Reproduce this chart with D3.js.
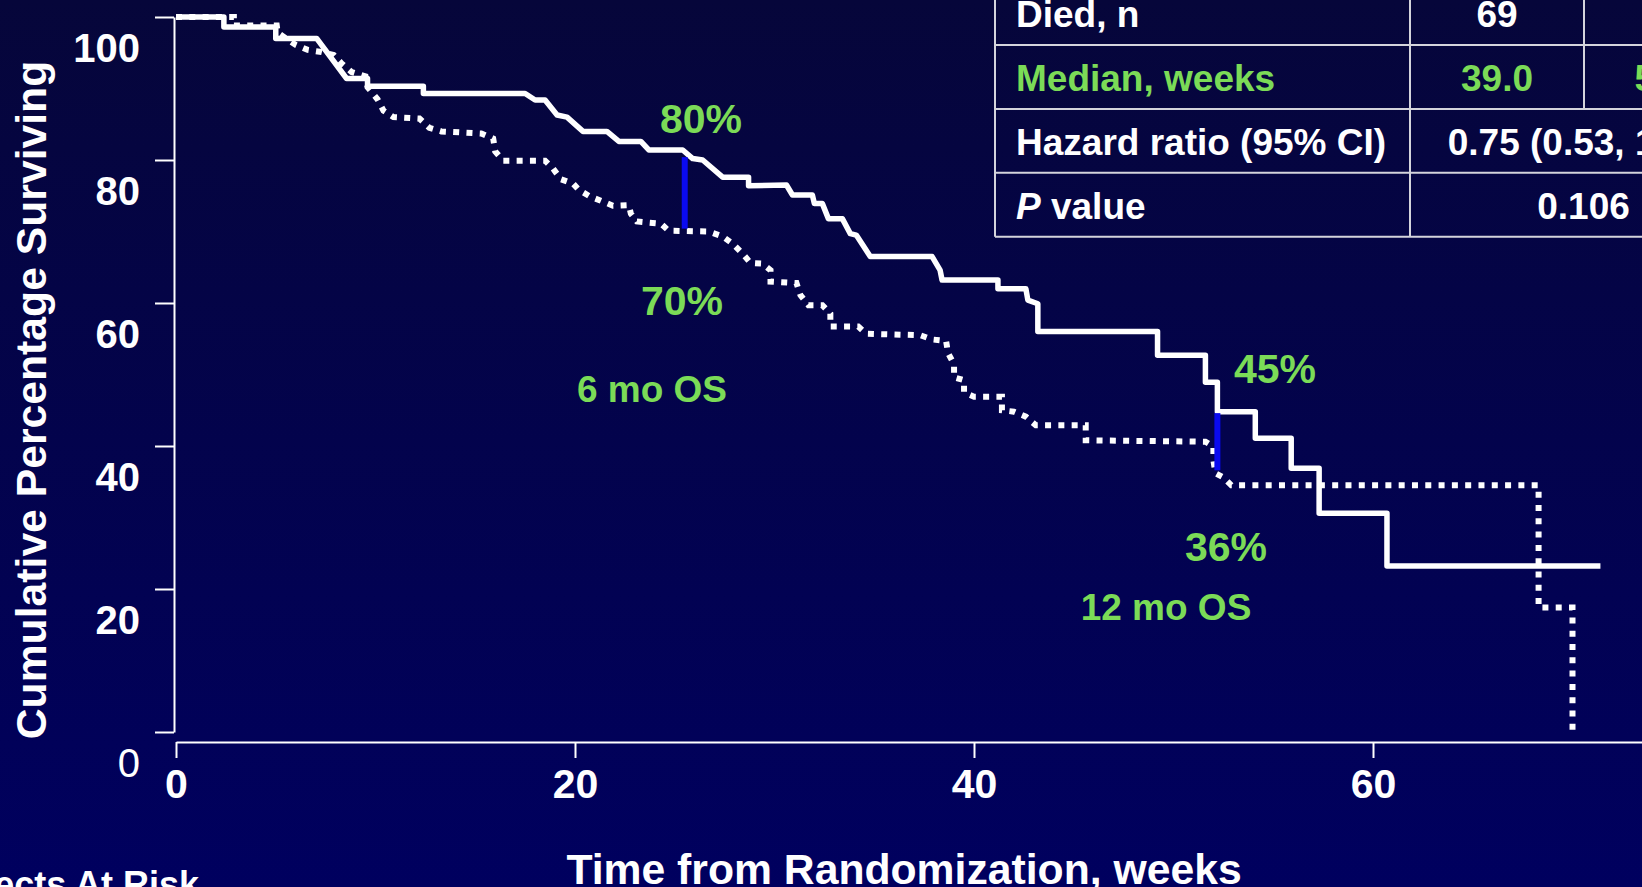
<!DOCTYPE html>
<html>
<head>
<meta charset="utf-8">
<script src="https://cdn.jsdelivr.net/npm/d3@7"></script>
<style>
  body { margin: 0; background: #02024c; overflow: hidden; }
  svg { display: block; font-family: "Liberation Sans", Arial, sans-serif; }
</style>
</head>
<body>
<div id="chart"></div>
<script>
// Kaplan-Meier curves, [week, % surviving]
const armBCurve = [
  [0, 100], [2.4, 100], [2.4, 98.6], [5.0, 98.6], [5.0, 97.0], [7.05, 97.0], [8.55, 91.4],
  [9.6, 91.4], [9.6, 90.3], [12.4, 90.3], [12.4, 89.3], [17.5, 89.3], [18.0, 88.4], [18.5, 88.4],
  [19.1, 86.3], [19.6, 86.0], [20.4, 84.0], [21.6, 84.0], [22.2, 82.6], [23.3, 82.6], [23.7, 81.4],
  [25.4, 81.4], [25.9, 80.2], [26.4, 80.0], [27.4, 77.6], [28.7, 77.6], [28.7, 76.4], [30.6, 76.5],
  [30.9, 75.1], [31.9, 75.1], [32.0, 73.9], [32.4, 73.9], [32.7, 71.8], [33.4, 71.8], [33.8, 69.7],
  [34.1, 69.5], [34.8, 66.5], [37.9, 66.5], [38.3, 64.6], [38.4, 63.2], [41.2, 63.2], [41.2, 62.0],
  [42.6, 62.0], [42.7, 60.4], [43.2, 59.9], [43.2, 56.0], [49.2, 56.0], [49.2, 52.7], [51.6, 52.7],
  [51.6, 48.9], [52.2, 48.9], [52.2, 44.8], [54.1, 44.8], [54.1, 41.1], [55.9, 41.1], [55.9, 36.9],
  [57.3, 36.9], [57.3, 30.6], [60.7, 30.6], [60.7, 23.2], [71.4, 23.2]
];
const armACurve = [
  [0, 100], [2.9, 100], [2.9, 98.8], [5.05, 98.8], [5.1, 97.8], [6.0, 96.1], [6.6, 95.4],
  [7.3, 95.1], [7.9, 94.7], [8.3, 93.5], [8.8, 92.3], [9.5, 91.7], [9.6, 90.2], [10.1, 88.5],
  [10.4, 86.9], [10.9, 86.0], [12.2, 85.8], [12.7, 84.5], [13.3, 84.0], [15.3, 83.7], [15.9, 83.0],
  [16.0, 81.2], [16.4, 79.9], [18.5, 79.9], [18.9, 78.8], [19.3, 77.3], [19.9, 76.7], [20.2, 75.8],
  [20.75, 74.9], [21.3, 74.3], [21.9, 73.6], [22.7, 73.7], [22.8, 72.5], [23.1, 71.4], [24.3, 71.1],
  [24.7, 70.1], [26.7, 70.0], [27.4, 69.3], [27.9, 68.3], [28.4, 66.9], [28.8, 65.6], [29.4, 65.5],
  [29.8, 64.6], [29.8, 63.0], [31.1, 62.8], [31.3, 61.1], [31.7, 59.7], [32.4, 59.7], [32.8, 58.5],
  [32.8, 56.7], [34.2, 56.7], [34.6, 55.7], [37.3, 55.5], [37.9, 54.9], [38.6, 54.7], [38.7, 53.0],
  [39.0, 51.4], [39.0, 49.6], [39.5, 49.2], [39.5, 47.5], [40.0, 46.9], [41.4, 46.9], [41.4, 45.0],
  [42.0, 44.8], [42.6, 44.1], [43.1, 42.9], [45.6, 42.9], [45.6, 40.8], [51.6, 40.6], [52.0, 39.9],
  [52.0, 38.0], [52.1, 36.2], [52.5, 35.6], [52.9, 34.5], [68.3, 34.5], [68.3, 17.4], [70.0, 17.4],
  [70.0, 0]
];

const yTicks = [0, 20, 40, 60, 80, 100];
const xTicks = [0, 20, 40, 60];

// 6 and 12 month landmarks
const landmarkWeeks = [25.5, 52.2];
const landmarkHigh = [80.4, 44.6];
const landmarkLow = [70.4, 36.6];
const highLabels = ["80%", "45%"];
const lowLabels = ["70%", "36%"];
const landmarkNames = ["6 mo OS", "12 mo OS"];

// summary table (header row is off the top of the slide)
const tableLabels = ["Died, n", "Median, weeks", "Hazard ratio (95% CI)", "P value"];
const armAColumn = ["69", "39.0"];
const armBColumn = ["62", "52.0"];
const pooledColumn = ["0.75 (0.53, 1.06)", "0.106"];

const width = 1642, height = 887;
const green = "#7bdb57";

const svg = d3.select("#chart")
  .append("svg")
  .attr("width", width)
  .attr("height", height);

// background
const grad = svg.append("defs").append("linearGradient")
  .attr("id", "bg").attr("x1", 0).attr("y1", 0).attr("x2", 0).attr("y2", 1);
grad.append("stop").attr("offset", "0%").attr("stop-color", "#06063a");
grad.append("stop").attr("offset", "100%").attr("stop-color", "#00005f");
svg.append("rect").attr("width", width).attr("height", height).attr("fill", "url(#bg)");

const x = d3.scaleLinear().domain([0, 73.5]).range([176, 176 + 73.5 * 19.95]);
const y = d3.scaleLinear().domain([0, 100]).range([732, 17]);

// Y axis
const yAxis = svg.append("g")
  .attr("transform", "translate(174,0)")
  .call(d3.axisLeft(y).tickValues(yTicks).tickSize(19).tickPadding(15).tickSizeOuter(0));
yAxis.selectAll("text")
  .attr("dy", 44)
  .style("font-size", "40px")
  .style("font-weight", d => d === 0 ? "normal" : "bold")
  .style("font-family", "Liberation Sans, Arial, sans-serif")
  .style("fill", "white");

// X axis
const xAxis = svg.append("g")
  .attr("transform", "translate(0,742)")
  .call(d3.axisBottom(x).tickValues(xTicks).tickSize(16).tickPadding(11).tickSizeOuter(0));
xAxis.selectAll("text")
  .style("font-size", "41px")
  .style("font-weight", "bold")
  .style("font-family", "Liberation Sans, Arial, sans-serif")
  .style("fill", "white");

svg.selectAll(".domain").style("stroke", "white").style("stroke-width", 2);
svg.selectAll(".tick line").style("stroke", "white").style("stroke-width", 2);

// axis titles
svg.append("text")
  .attr("transform", "translate(46,400) rotate(-90)")
  .attr("text-anchor", "middle")
  .style("font-size", "42.7px")
  .style("font-weight", "bold")
  .style("fill", "white")
  .text("Cumulative Percentage Surviving");

svg.append("text")
  .attr("x", 904)
  .attr("y", 884)
  .attr("text-anchor", "middle")
  .style("font-size", "42.7px")
  .style("font-weight", "bold")
  .style("fill", "white")
  .text("Time from Randomization, weeks");

svg.append("text")
  .attr("x", 199)
  .attr("y", 897)
  .attr("text-anchor", "end")
  .style("font-size", "36px")
  .style("font-weight", "bold")
  .style("fill", "white")
  .text("Subjects At Risk");

// curves
const line = d3.line()
  .x(d => x(d[0]))
  .y(d => y(d[1]));

svg.append("path")
  .datum(armACurve)
  .attr("d", line)
  .attr("fill", "none")
  .attr("stroke", "white")
  .attr("stroke-width", 6)
  .attr("stroke-dasharray", "6 7.3");

svg.append("path")
  .datum(armBCurve)
  .attr("d", line)
  .attr("fill", "none")
  .attr("stroke", "white")
  .attr("stroke-width", 5.5)
  .attr("stroke-linejoin", "round");

// landmark bars
svg.selectAll(".landmark")
  .data(landmarkWeeks)
  .enter()
  .append("line")
  .attr("class", "landmark")
  .attr("x1", d => x(d))
  .attr("x2", d => x(d))
  .attr("y1", (d, i) => y(landmarkHigh[i]))
  .attr("y2", (d, i) => y(landmarkLow[i]))
  .attr("stroke", "#0a0af0")
  .attr("stroke-width", 6);

// landmark labels
const highPos = [[701, 133], [1275, 383]];
const lowPos = [[682, 315], [1226, 561]];
const namePos = [[652, 402], [1166, 620]];

function greenText(txt, pos, size) {
  svg.append("text")
    .attr("x", pos[0])
    .attr("y", pos[1])
    .attr("text-anchor", "middle")
    .style("font-size", size + "px")
    .style("font-weight", "bold")
    .style("fill", green)
    .text(txt);
}
landmarkWeeks.forEach((w, i) => {
  greenText(highLabels[i], highPos[i], 41);
  greenText(lowLabels[i], lowPos[i], 41);
  greenText(landmarkNames[i], namePos[i], 37);
});

// table
const tLeft = 995, tCol1 = 1410, tCol2 = 1584, tRight = 1757;
const rowH = 63.9, firstBottom = 45;
const table = svg.append("g");
const lineColor = "#d4d4dc";

tableLabels.forEach((lab, i) => {
  const bottom = firstBottom + rowH * i;
  table.append("line")
    .attr("x1", tLeft).attr("x2", tRight)
    .attr("y1", bottom).attr("y2", bottom)
    .attr("stroke", lineColor).attr("stroke-width", 2);
});
table.append("line")
  .attr("x1", tLeft).attr("x2", tLeft)
  .attr("y1", -20).attr("y2", firstBottom + rowH * 3)
  .attr("stroke", lineColor).attr("stroke-width", 2);
table.append("line")
  .attr("x1", tCol1).attr("x2", tCol1)
  .attr("y1", -20).attr("y2", firstBottom + rowH * 3)
  .attr("stroke", lineColor).attr("stroke-width", 2);
table.append("line")
  .attr("x1", tCol2).attr("x2", tCol2)
  .attr("y1", -20).attr("y2", firstBottom + rowH)
  .attr("stroke", lineColor).attr("stroke-width", 2);

const cellFont = "37px";
tableLabels.forEach((lab, i) => {
  const base = firstBottom + rowH * i - 18;
  const col = i === 1 ? green : "white";
  const t = table.append("text")
    .attr("x", 1016)
    .attr("y", base)
    .style("font-size", cellFont)
    .style("font-weight", "bold")
    .style("fill", col);
  if (lab.startsWith("P ")) {
    t.append("tspan").style("font-style", "italic").text("P");
    t.append("tspan").text(lab.slice(1));
  } else {
    t.text(lab);
  }
  if (i < 2) {
    table.append("text")
      .attr("x", (tCol1 + tCol2) / 2).attr("y", base)
      .attr("text-anchor", "middle")
      .style("font-size", cellFont).style("font-weight", "bold").style("fill", col)
      .text(armAColumn[i]);
    table.append("text")
      .attr("x", (tCol2 + tRight) / 2).attr("y", base)
      .attr("text-anchor", "middle")
      .style("font-size", cellFont).style("font-weight", "bold").style("fill", col)
      .text(armBColumn[i]);
  } else {
    table.append("text")
      .attr("x", (tCol1 + tRight) / 2).attr("y", base)
      .attr("text-anchor", "middle")
      .style("font-size", cellFont).style("font-weight", "bold").style("fill", col)
      .text(pooledColumn[i - 2]);
  }
});
</script>
</body>
</html>
